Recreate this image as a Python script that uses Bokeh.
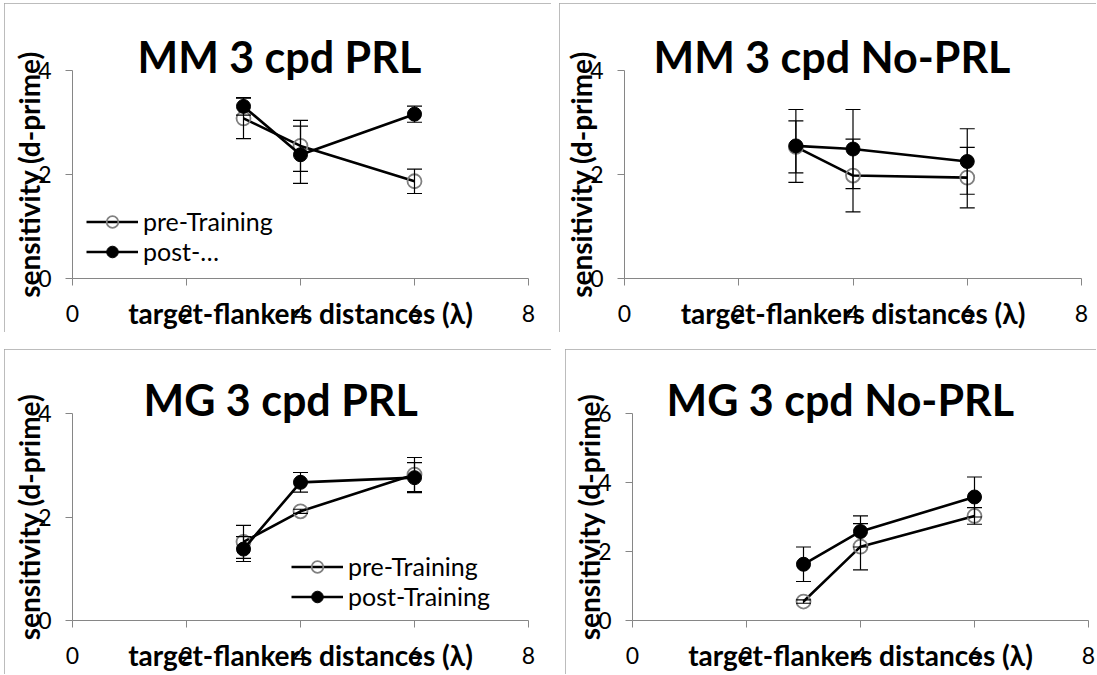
from bokeh.plotting import figure
from bokeh.models import (Range1d, FixedTicker, Whisker, TeeHead, ColumnDataSource,
                          Legend, LegendItem, Title)
from bokeh.layouts import row, column
from bokeh.embed import file_html
from bokeh.resources import INLINE

# ---------------- data ----------------
distances = [3, 4, 6]
x_ticks = [0, 2, 4, 6, 8]

titles = ["MM 3 cpd PRL", "MM 3 cpd No-PRL", "MG 3 cpd PRL", "MG 3 cpd No-PRL"]
x_title = "target-flankers distances (λ)"
y_title = "sensitivity (d-prime)"

mm_prl_pre = [3.08, 2.55, 1.87]
mm_prl_pre_err = [0.39, 0.49, 0.235]
mm_prl_post = [3.31, 2.38, 3.16]
mm_prl_post_err = [0.17, 0.55, 0.155]

mm_noprl_pre = [2.53, 1.98, 1.94]
mm_noprl_pre_err = [0.50, 0.70, 0.58]
mm_noprl_post = [2.55, 2.49, 2.25]
mm_noprl_post_err = [0.70, 0.76, 0.63]

mg_prl_pre = [1.52, 2.11, 2.82]
mg_prl_pre_err = [0.32, 0.04, 0.33]
mg_prl_post = [1.38, 2.67, 2.76]
mg_prl_post_err = [0.24, 0.19, 0.29]

mg_noprl_pre = [0.55, 2.14, 3.03]
mg_noprl_pre_err = [0.05, 0.67, 0.24]
mg_noprl_post = [1.63, 2.58, 3.58]
mg_noprl_post_err = [0.50, 0.45, 0.58]

y_max = [4, 4, 4, 6]
y_ticks = [[0, 2, 4], [0, 2, 4], [0, 2, 4], [0, 2, 4, 6]]
legend_labels = [["pre-Training", "post-…"], None, ["pre-Training", "post-Training"], None]

FONT = "Lato"
AXIS_GREY = "#868686"


def make_panel(title, pre, pre_err, post, post_err, ymax, yticks, labels,
               width, height, left, right, top, bottom, legend_loc, title_offset):
    p = figure(width=width, height=height, output_backend="svg", toolbar_location=None,
               x_range=Range1d(0, 8), y_range=Range1d(0, ymax),
               min_border_left=left, min_border_right=right,
               min_border_top=top, min_border_bottom=bottom,
               background_fill_color="white", border_fill_color="white",
               styles={"outline": "1px solid #a6a6a6", "outline-offset": "-1px"})
    p.outline_line_color = None
    p.xgrid.visible = False
    p.ygrid.visible = False

    p.xaxis.ticker = FixedTicker(ticks=x_ticks)
    p.yaxis.ticker = FixedTicker(ticks=yticks)
    p.xaxis.axis_label = x_title
    p.yaxis.axis_label = y_title
    for ax in (p.xaxis[0], p.yaxis[0]):
        ax.axis_line_color = AXIS_GREY
        ax.major_tick_line_color = AXIS_GREY
        ax.major_tick_out = 7
        ax.major_tick_in = 0
        ax.minor_tick_line_color = None
        ax.major_label_text_font = FONT
        ax.major_label_text_font_size = "23px"
        ax.major_label_text_color = "black"
        ax.axis_label_text_font = FONT
        ax.axis_label_text_font_style = "bold"
        ax.axis_label_text_font_size = "28px"
        ax.axis_label_text_color = "black"
    p.xaxis.major_label_standoff = 19
    p.yaxis.major_label_standoff = 14
    p.xaxis.axis_label_standoff = -29
    p.yaxis.axis_label_standoff = -11

    src = ColumnDataSource(dict(
        x=distances,
        pre=pre, post=post,
        pre_up=[v + e for v, e in zip(pre, pre_err)],
        pre_lo=[v - e for v, e in zip(pre, pre_err)],
        post_up=[v + e for v, e in zip(post, post_err)],
        post_lo=[v - e for v, e in zip(post, post_err)],
    ))

    for up, lo in (("pre_up", "pre_lo"), ("post_up", "post_lo")):
        w = Whisker(source=src, base="x", upper=up, lower=lo,
                    line_color="black", line_width=1.2, level="glyph",
                    upper_head=TeeHead(size=15, line_color="black", line_width=1.2),
                    lower_head=TeeHead(size=15, line_color="black", line_width=1.2))
        p.add_layout(w)

    pre_line = p.line("x", "pre", source=src, line_color="black", line_width=2.6)
    pre_sc = p.scatter("x", "pre", source=src, marker="circle", size=14,
                       fill_color=None, line_color="#808080", line_width=1.8)
    post_line = p.line("x", "post", source=src, line_color="black", line_width=2.6)
    post_sc = p.scatter("x", "post", source=src, marker="circle", size=14,
                        fill_color="black", line_color="black", line_width=1)

    if labels is not None:
        legend = Legend(items=[LegendItem(label=labels[0], renderers=[pre_line, pre_sc]),
                               LegendItem(label=labels[1], renderers=[post_line, post_sc])],
                        location=legend_loc, glyph_width=52, glyph_height=29,
                        label_height=29, spacing=0, padding=0, margin=0,
                        border_line_color=None, background_fill_alpha=0,
                        label_text_font=FONT, label_text_font_size="25px",
                        label_text_color="black", label_standoff=5)
        p.add_layout(legend)

    p.add_layout(Title(text=title, align="left", offset=title_offset, standoff=-22,
                       text_font=FONT, text_font_style="bold", text_font_size="43px",
                       text_color="black"), "above")
    return p


p1 = make_panel(titles[0], mm_prl_pre, mm_prl_pre_err, mm_prl_post, mm_prl_post_err,
                y_max[0], y_ticks[0], legend_labels[0],
                547, 329, 68, 23, 67, 53, (14, 12), 65)
p2 = make_panel(titles[1], mm_noprl_pre, mm_noprl_pre_err, mm_noprl_post, mm_noprl_post_err,
                y_max[1], y_ticks[1], legend_labels[1],
                537, 329, 65, 15, 67, 53, None, 29)
p3 = make_panel(titles[2], mg_prl_pre, mg_prl_pre_err, mg_prl_post, mg_prl_post_err,
                y_max[2], y_ticks[2], legend_labels[2],
                547, 325, 68, 23, 64, 52, (219, 9), 71)
p4 = make_panel(titles[3], mg_noprl_pre, mg_noprl_pre_err, mg_noprl_post, mg_noprl_post_err,
                y_max[3], y_ticks[3], legend_labels[3],
                531, 325, 67, 8, 64, 52, None, 34)

lay = column(row(p1, p2, spacing=8), row(p3, p4, spacing=14), spacing=17,
             margin=(3, 0, 0, 4))

open("out.html", "w").write(file_html(lay, INLINE))
